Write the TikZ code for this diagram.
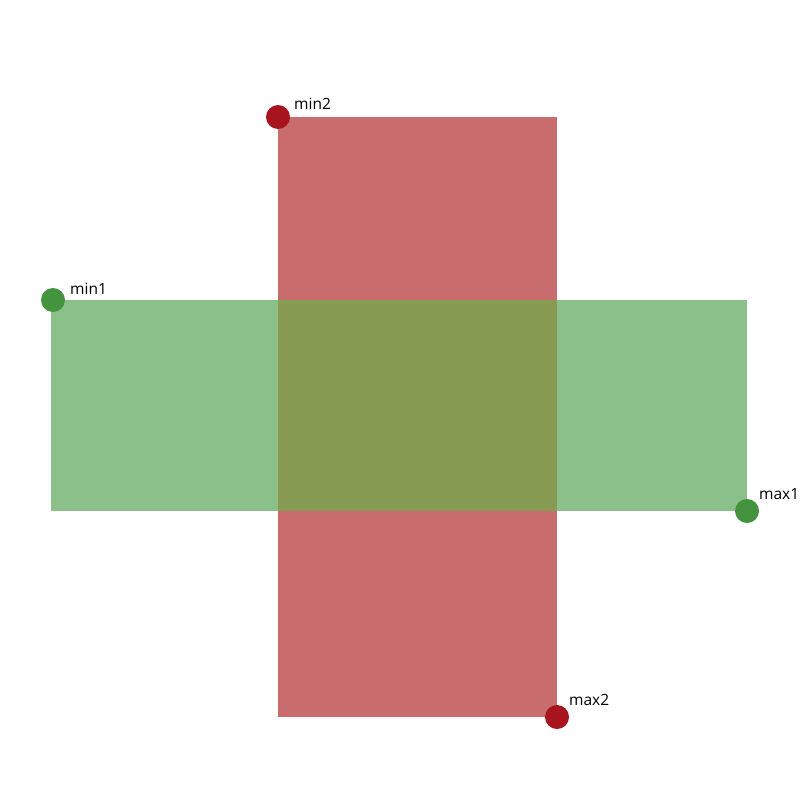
\documentclass[tikz,border=0pt]{standalone}
\usepackage{fontspec}
\setmainfont{Open Sans}
\definecolor{redfill}{HTML}{C86C6E}
\definecolor{greenfill}{HTML}{8CC08A}
\definecolor{olivefill}{HTML}{879B52}
\definecolor{reddot}{HTML}{A8141E}
\definecolor{greendot}{HTML}{43933F}
\begin{document}
\begin{tikzpicture}[x=1pt,y=-1pt,
  dotnode/.style={circle,inner sep=0pt,minimum size=24pt},
  lbl/.style={anchor=base west,inner sep=0pt,font=\fontsize{15.5}{18}\selectfont}]
\useasboundingbox (0,0) rectangle (800,800);
\fill[white] (0,0) rectangle (800,800);
\fill[redfill] (278,117) rectangle (557,717);
\fill[greenfill] (51,300) rectangle (747,511);
\fill[olivefill] (278,300) rectangle (557,511);
\node[dotnode,fill=reddot] (min2) at (278,117) {};
\node[dotnode,fill=greendot] (min1) at (53,300) {};
\node[dotnode,fill=greendot] (max1) at (747,511) {};
\node[dotnode,fill=reddot] (max2) at (557,717) {};
\node[lbl] (lmin2) at (294,109) {min2};
\node[lbl] (lmin1) at (70,294) {min1};
\node[lbl] (lmax1) at (759,499) {max1};
\node[lbl] (lmax2) at (569,705) {max2};
\end{tikzpicture}
\end{document}
